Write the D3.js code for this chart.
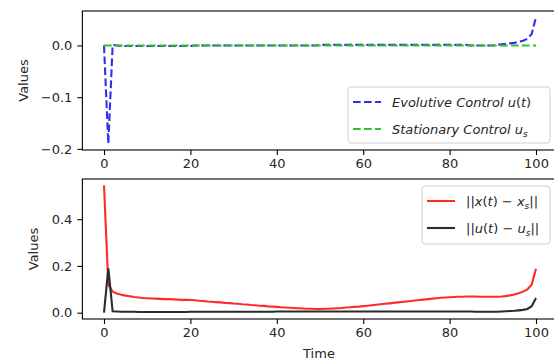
<!DOCTYPE html>
<html lang="en">
<head>
    <meta charset="UTF-8">
    <title>Control trajectories</title>
    <script src="https://cdn.jsdelivr.net/npm/d3@7"></script>
    <style>
        body {
            margin: 0;
            background-color: #fff;
            font-family: "DejaVu Sans", sans-serif;
        }
        svg text {
            fill: #262626;
        }
        .tick text {
            font-size: 13px;
        }
        .legend text {
            font-size: 13px;
        }
    </style>
</head>
<body>
    <svg id="chart" width="554" height="364"></svg>
    <script>
        // time grid 0..100
        const time = d3.range(0, 101);

        // top panel: controls
        const evolutiveControl = [
            0.000, -0.190, 0.001, 0.000, -0.001, -0.001, -0.001, -0.001, -0.001, -0.001,
            -0.001, -0.001, -0.001, -0.001, -0.001, -0.001, -0.001, -0.001, -0.001, -0.001,
            -0.001, 0.000, 0.000, 0.000, 0.000, 0.000, 0.000, 0.000, 0.000, 0.000,
            0.000, 0.000, 0.000, 0.000, 0.000, 0.000, 0.000, 0.000, 0.000, 0.000,
            0.000, 0.000, 0.000, 0.000, 0.000, 0.000, 0.000, 0.000, 0.000, 0.000,
            0.001, 0.001, 0.001, 0.001, 0.001, 0.001, 0.001, 0.001, 0.001, 0.001,
            0.001, 0.001, 0.001, 0.001, 0.001, 0.001, 0.001, 0.001, 0.001, 0.001,
            0.001, 0.001, 0.001, 0.001, 0.001, 0.001, 0.001, 0.001, 0.001, 0.001,
            0.001, 0.001, 0.001, 0.001, 0.001, 0.000, 0.000, 0.000, 0.000, 0.000,
            0.000, 0.001, 0.002, 0.003, 0.004, 0.005, 0.007, 0.009, 0.013, 0.022,
            0.055
        ];
        const stationaryControl = [
            0, 0, 0, 0, 0, 0, 0, 0, 0, 0, 0, 0, 0, 0, 0, 0, 0, 0, 0, 0,
            0, 0, 0, 0, 0, 0, 0, 0, 0, 0, 0, 0, 0, 0, 0, 0, 0, 0, 0, 0,
            0, 0, 0, 0, 0, 0, 0, 0, 0, 0, 0, 0, 0, 0, 0, 0, 0, 0, 0, 0,
            0, 0, 0, 0, 0, 0, 0, 0, 0, 0, 0, 0, 0, 0, 0, 0, 0, 0, 0, 0,
            0, 0, 0, 0, 0, 0, 0, 0, 0, 0, 0, 0, 0, 0, 0, 0, 0, 0, 0, 0,
            0
        ];

        // bottom panel: distances to the steady state
        const stateError = [
            0.545, 0.120, 0.090, 0.082, 0.077, 0.073, 0.070, 0.067, 0.065, 0.063,
            0.062, 0.061, 0.060, 0.059, 0.058, 0.058, 0.057, 0.056, 0.055, 0.055,
            0.054, 0.053, 0.051, 0.050, 0.048, 0.047, 0.045, 0.044, 0.042, 0.041,
            0.039, 0.038, 0.036, 0.035, 0.033, 0.032, 0.030, 0.029, 0.027, 0.026,
            0.025, 0.023, 0.022, 0.021, 0.020, 0.019, 0.018, 0.017, 0.017, 0.016,
            0.016, 0.017, 0.017, 0.018, 0.019, 0.020, 0.022, 0.023, 0.025, 0.026,
            0.028, 0.030, 0.032, 0.034, 0.036, 0.038, 0.040, 0.042, 0.044, 0.046,
            0.048, 0.050, 0.052, 0.054, 0.056, 0.058, 0.060, 0.062, 0.064, 0.065,
            0.066, 0.067, 0.068, 0.068, 0.069, 0.069, 0.069, 0.068, 0.068, 0.068,
            0.068, 0.068, 0.069, 0.071, 0.074, 0.078, 0.083, 0.090, 0.100, 0.120,
            0.188
        ];
        const controlError = [
            0.000, 0.190, 0.006, 0.005, 0.004, 0.004, 0.004, 0.004, 0.003, 0.003,
            0.003, 0.003, 0.003, 0.003, 0.003, 0.003, 0.003, 0.003, 0.003, 0.003,
            0.004, 0.004, 0.004, 0.004, 0.004, 0.004, 0.004, 0.004, 0.004, 0.004,
            0.004, 0.004, 0.004, 0.004, 0.004, 0.004, 0.004, 0.004, 0.004, 0.004,
            0.005, 0.005, 0.005, 0.005, 0.005, 0.005, 0.005, 0.005, 0.005, 0.005,
            0.005, 0.005, 0.005, 0.005, 0.005, 0.005, 0.005, 0.005, 0.005, 0.005,
            0.005, 0.005, 0.005, 0.005, 0.005, 0.005, 0.005, 0.005, 0.005, 0.005,
            0.005, 0.005, 0.005, 0.005, 0.005, 0.005, 0.005, 0.005, 0.005, 0.005,
            0.005, 0.005, 0.005, 0.005, 0.005, 0.005, 0.004, 0.004, 0.004, 0.004,
            0.004, 0.004, 0.005, 0.006, 0.007, 0.008, 0.010, 0.012, 0.016, 0.028,
            0.063
        ];

        const topTicks = [-0.2, -0.1, 0.0];
        const bottomTicks = [0.0, 0.2, 0.4];
        const timeTicks = [0, 20, 40, 60, 80, 100];

        const svg = d3.select("#chart");
        const left = 82.4, right = 557.6;

        const x = d3.scaleLinear().domain([-5, 105]).range([left, right]);
        const yTop = d3.scaleLinear().domain([-0.2022, 0.0666]).range([150, 11]);
        const yBot = d3.scaleLinear().domain([-0.027, 0.572]).range([319, 179]);

        const fmt = v => d3.format(".1f")(v).replace("-", "\u2212");

        function drawAxes(y, ticks, top, bottom, labelX) {
            const gx = svg.append("g")
                .attr("transform", `translate(0,${bottom})`)
                .call(d3.axisBottom(x).tickValues(timeTicks).tickSize(5).tickPadding(4).tickFormat(d3.format("d")));
            const gy = svg.append("g")
                .attr("transform", `translate(${left},0)`)
                .call(d3.axisLeft(y).tickValues(ticks).tickSize(5).tickPadding(5).tickFormat(fmt));
            [gx, gy].forEach(g => {
                g.select(".domain").remove();
                g.selectAll(".tick line").attr("stroke", "#000").attr("stroke-width", 1.1);
                g.selectAll(".tick text").attr("font-family", "DejaVu Sans").style("font-size", "13px");
            });
            svg.append("rect")
                .attr("x", left).attr("y", top)
                .attr("width", right - left).attr("height", bottom - top)
                .attr("fill", "none").attr("stroke", "#000").attr("stroke-width", 1.1);
            svg.append("text")
                .attr("transform", `translate(${labelX},${(top + bottom) / 2}) rotate(-90)`)
                .attr("text-anchor", "middle")
                .attr("dominant-baseline", "central")
                .style("font-size", "13px")
                .text("Values");
        }

        function drawLine(y, values, color, dashed) {
            const line = d3.line().x((d, i) => x(time[i])).y(d => y(d));
            svg.append("path")
                .datum(values)
                .attr("d", line)
                .attr("fill", "none")
                .attr("stroke", color)
                .attr("stroke-width", 2.1)
                .attr("stroke-dasharray", dashed ? "7.7,3.3" : null);
        }

        // label pieces: [text, italic, subscript, back up from subscript]
        function drawLegend(bx, by, bw, bh, items) {
            const g = svg.append("g").attr("class", "legend");
            g.append("rect")
                .attr("x", bx).attr("y", by).attr("width", bw).attr("height", bh)
                .attr("rx", 3)
                .attr("fill", "#fff").attr("fill-opacity", 0.8)
                .attr("stroke", "#d0d0d0").attr("stroke-width", 1);
            items.forEach((it, i) => {
                const cy = by + 15 + i * 27;
                g.append("line")
                    .attr("x1", bx + 5).attr("x2", bx + 33)
                    .attr("y1", cy).attr("y2", cy)
                    .attr("stroke", it.color).attr("stroke-width", 2.1)
                    .attr("stroke-dasharray", it.dashed ? "7.7,3.3" : null);
                const t = g.append("text")
                    .attr("x", bx + 44).attr("y", cy + 5);
                it.parts.forEach(p => {
                    const s = t.append("tspan")
                        .attr("font-style", p[1] ? "italic" : "normal")
                        .text(p[0]);
                    if (p[2]) s.attr("dy", 3).style("font-size", "9px");
                    if (p[3]) s.attr("dy", -3);
                });
            });
        }

        // top panel
        drawAxes(yTop, topTicks, 11, 150, 23);
        drawLine(yTop, evolutiveControl, "#3030e8", true);
        drawLine(yTop, stationaryControl, "#30c030", true);
        drawLegend(348, 87, 202, 56, [
            { color: "#3030e8", dashed: true, parts: [["Evolutive Control u", true], ["(", false], ["t", true], [")", false]] },
            { color: "#30c030", dashed: true, parts: [["Stationary Control u", true], ["s", true, true]] }
        ]);

        // bottom panel
        drawAxes(yBot, bottomTicks, 179, 319, 33);
        drawLine(yBot, stateError, "#ff2a2a", false);
        drawLine(yBot, controlError, "#2b2b2b", false);
        drawLegend(422, 186, 128, 58, [
            { color: "#ff2a2a", dashed: false, parts: [["||", false], ["x", true], ["(", false], ["t", true], [") \u2212 ", false], ["x", true], ["s", true, true], ["||", false, false, true]] },
            { color: "#2b2b2b", dashed: false, parts: [["||", false], ["u", true], ["(", false], ["t", true], [") \u2212 ", false], ["u", true], ["s", true, true], ["||", false, false, true]] }
        ]);

        svg.append("text")
            .attr("x", (left + right) / 2 - 1).attr("y", 358)
            .attr("text-anchor", "middle")
            .style("font-size", "13px")
            .text("Time");
    </script>
</body>
</html>
